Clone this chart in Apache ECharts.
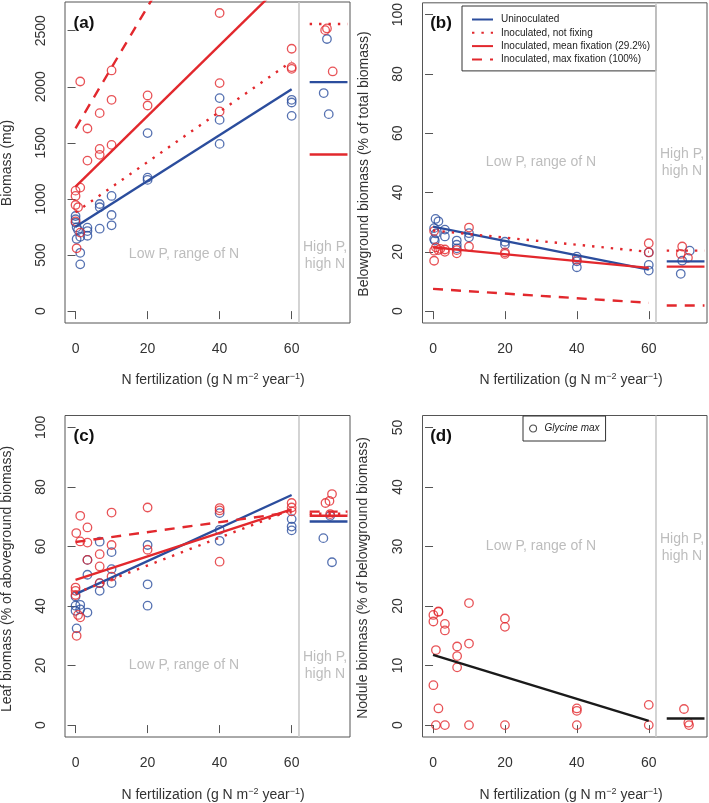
<!DOCTYPE html>
<html><head><meta charset="utf-8">
<script src="https://cdn.jsdelivr.net/npm/echarts@6/dist/echarts.min.js"></script>
<style>html,body{margin:0;padding:0;background:#fff}#c{width:709px;height:803px}</style>
</head><body><div id="c"></div>
<script>
// ---------- tick labels ----------
const xTicks = [0, 20, 40, 60];
const aYTicks = [0, 500, 1000, 1500, 2000, 2500];
const pctTicks = [0, 20, 40, 60, 80, 100];
const dYTicks = [0, 10, 20, 30, 40, 50];
const highPBoundary = 62;
const highPSpan = [65, 75.5];
const fitN = [0, 60];

// ---------- series names ----------
const legendNames = ['Uninoculated', 'Inoculated, not fixing', 'Inoculated, mean fixation (29.2%)', 'Inoculated, max fixation (100%)'];

// ---------- panel (a) Biomass (mg) ----------
const aUninocN = [0, 0, 0, 0.3, 0.7, 0.3, 1.3, 1.3, 1.3, 3.3, 3.3, 3.3, 6.7, 6.7, 6.7, 10, 10, 10, 20, 20, 20, 40, 40, 40, 60, 60, 60, 69.8, 68.9, 70.3];
const aUninocVal = [848, 819, 789, 747, 723, 643, 663, 520, 417, 744, 714, 672, 955, 926, 735, 1027, 857, 765, 1587, 1190, 1170, 1899, 1705, 1491, 1884, 1860, 1741, 2426, 1944, 1756];
const aInocN = [0, 0, 0, 0.7, 0.3, 0, 1.3, 1.3, 1.3, 3.3, 3.3, 6.7, 6.7, 6.7, 10, 10, 10, 20, 20, 40, 40, 40, 60, 60, 60, 69.3, 69.8, 71.4];
const aInocVal = [1074, 1027, 946, 926, 560, 800, 1101, 700, 2047, 1628, 1342, 1765, 1446, 1393, 2146, 1884, 1482, 1923, 1833, 2658, 2033, 1780, 2339, 2175, 2160, 2505, 2520, 2137];
const aFitUninoc = [753, 1979];
const aFitNotFix = [881, 2226];
const aFitMean = [1110, 3000];
const aFitMax = [1630, 4880];
const aHighUninoc = 2042;
const aHighNotFix = 2560;
const aHighMean = 1396;

// ---------- panel (b) Belowground biomass (%) ----------
const bUninocN = [0.7, 1.5, 0.3, 0.8, 0.3, 0.5, 3.3, 3.3, 6.6, 6.6, 6.6, 10, 10, 20, 20, 40, 40, 40, 60, 60, 60, 71.4, 69.3, 68.9];
const bUninocVal = [31.1, 30.3, 28.0, 26.2, 24.3, 23.8, 27.5, 25.2, 23.8, 22.4, 21.2, 26.3, 24.9, 23.4, 22.4, 18.4, 16.8, 14.8, 19.8, 15.6, 13.7, 20.4, 17.0, 12.6];
const bInocN = [0.3, 0.3, 0.3, 0.8, 1.5, 2, 3.3, 3.3, 6.6, 6.6, 10, 10, 20, 20, 40, 60, 60, 69.3, 68.9, 70.9];
const bInocVal = [17.0, 20.4, 27.0, 21.5, 20.6, 21.0, 20.0, 20.8, 19.5, 20.6, 28.2, 21.8, 19.8, 19.3, 17.3, 22.9, 19.8, 21.8, 19.3, 18.0];
const bFitUninoc = [28.5, 14.0];
const bFitNotFix = [27.2, 20.0];
const bFitMean = [21.5, 14.6];
const bFitMax = [7.5, 2.8];
const bHighUninoc = 16.8;
const bHighNotFix = 20.4;
const bHighMean = 15.0;
const bHighMax = 1.9;

// ---------- panel (c) Leaf biomass (%) ----------
const cUninocN = [6.7, 10, 3.3, 20, 3.3, 10, 10, 6.7, 6.7, 20, 20, 0, 0, 0, 1.3, 1.3, 3.3, 0.3, 40, 40, 40, 60, 60, 60, 70.7, 68.8, 71.2];
const cUninocVal = [61.6, 58.1, 55.5, 60.5, 50.5, 52.4, 47.7, 45.1, 47.7, 47.3, 40.1, 43.2, 40.1, 38.4, 40.4, 38.9, 37.8, 32.5, 71.2, 65.6, 61.9, 69.2, 66.7, 65.4, 70.3, 62.8, 54.7];
const cInocN = [1.3, 10, 20, 3.3, 0.2, 1.3, 3.3, 10, 20, 6.7, 6.7, 10, 3.3, 6.7, 0, 0, 0, 0.7, 1.3, 0.3, 40, 40, 40, 60, 60, 60, 71.2, 70.5, 69.4, 70.7];
const cInocVal = [70.3, 71.4, 73.1, 66.4, 64.5, 61.7, 61.3, 60.5, 58.9, 57.4, 53.3, 49.9, 55.5, 47.7, 46.2, 45.1, 43.7, 37.0, 36.2, 30.0, 72.9, 72.1, 54.9, 74.6, 73.1, 71.8, 77.6, 75.3, 74.6, 70.9];
const cFitUninoc = [44.0, 77.3];
const cFitNotFix = [44.3, 72.3];
const cFitMean = [48.8, 72.5];
const cFitMax = [61.5, 71.5];
const cHighUninoc = 68.4;
const cHighNotFix = 71.0;
const cHighMean = 70.3;
const cHighMax = 71.7;

// ---------- panel (d) Nodule biomass (%) ----------
const dN = [0.1, 0.1, 1.5, 1.5, 3.3, 3.3, 10, 10, 20, 20, 0.8, 6.7, 6.7, 6.7, 0.1, 1.5, 0.8, 3.3, 10, 20, 40, 60, 40, 40, 60, 69.8, 71, 71.2];
const dVal = [18.5, 17.4, 19.1, 19.0, 17.0, 15.9, 20.5, 13.7, 17.9, 16.5, 12.6, 13.2, 11.6, 9.7, 6.7, 2.8, 0, 0, 0, 0, 0, 0, 2.8, 2.4, 3.4, 2.7, 0.4, 0];
const dFit = [11.8, 0.7];
const dHigh = 1.1;

// ---------- styling ----------
const FONT = "'Liberation Sans', Arial, Helvetica, sans-serif";
const BLUE = '#2b4d9d', RED = '#e2282d', BLACK = '#1a1a1a';
const GRAY_TXT = '#bdbdbd', GRAY_LINE = '#c9c9c9', AX = '#555', LBL = '#333';
const DOT = [2.4, 7], DASH = [10, 8];

const pair = (xs, ys) => xs.map((x, i) => [x, ys[i]]);
const fitPts = (vals) => pair(fitN, vals);
const highPts = (v) => [[highPSpan[0], v], [highPSpan[1], v]];

function scatter(idx, name, xs, ys, color, withBoundary) {
  const s = {
    type: 'scatter', name, xAxisIndex: idx, yAxisIndex: idx, data: pair(xs, ys),
    symbol: 'circle', symbolSize: 8.5, silent: true, z: 3,
    itemStyle: { color: 'rgba(0,0,0,0)', borderColor: color, borderWidth: 1.3 },
    emphasis: { disabled: true }
  };
  if (withBoundary) {
    s.markLine = {
      silent: true, symbol: 'none', label: { show: false },
      lineStyle: { color: GRAY_LINE, width: 1.6, type: 'solid' },
      data: [{ xAxis: highPBoundary }], animation: false
    };
  }
  return s;
}
function line(idx, name, pts, color, type) {
  return {
    type: 'line', name, xAxisIndex: idx, yAxisIndex: idx, data: pts,
    symbol: 'none', showSymbol: false, clip: true, silent: true, z: 4,
    lineStyle: { color, width: 2.4, type, cap: 'butt' }, itemStyle: { color }
  };
}

const grids = [
  { left: 65, top: 2, width: 285, height: 321 },
  { left: 422.5, top: 2, width: 284.5, height: 321 },
  { left: 65, top: 415.5, width: 285, height: 321.5 },
  { left: 422.5, top: 415.5, width: 284.5, height: 321.5 }
].map(g => Object.assign(g, { show: true, borderColor: AX, borderWidth: 1, backgroundColor: 'transparent' }));

const plain = v => String(v);
const xAxes = [0, 1, 2, 3].map(i => ({
  type: 'value', gridIndex: i, min: -2.93, max: 76.2,
  axisLine: { show: false }, splitLine: { show: false },
  axisTick: { show: true, inside: false, length: 8, lineStyle: { color: AX }, customValues: xTicks },
  axisLabel: { customValues: xTicks, formatter: plain, margin: 19, fontSize: 14, color: LBL, fontFamily: FONT }
}));
const yRanges = [[-106, 2756, aYTicks], [-4, 104, pctTicks], [-4, 104, pctTicks], [-2, 52, dYTicks]];
const yAxes = yRanges.map((r, i) => ({
  type: 'value', gridIndex: i, min: r[0], max: r[1],
  axisLine: { show: false }, splitLine: { show: false },
  axisTick: { show: true, inside: false, length: 8, lineStyle: { color: AX }, customValues: r[2] },
  axisLabel: { customValues: r[2], formatter: plain, rotate: 90, margin: 17, fontSize: 14, color: LBL, fontFamily: FONT }
}));

const series = [
  // (a)
  scatter(0, 'Uninoculated obs', aUninocN, aUninocVal, BLUE, true),
  scatter(0, 'Inoculated obs', aInocN, aInocVal, RED, false),
  line(0, legendNames[0], fitPts(aFitUninoc), BLUE, 'solid'),
  line(0, legendNames[1], fitPts(aFitNotFix), RED, DOT),
  line(0, legendNames[2], fitPts(aFitMean), RED, 'solid'),
  line(0, legendNames[3], fitPts(aFitMax), RED, DASH),
  line(0, legendNames[0], highPts(aHighUninoc), BLUE, 'solid'),
  line(0, legendNames[1], highPts(aHighNotFix), RED, DOT),
  line(0, legendNames[2], highPts(aHighMean), RED, 'solid'),
  // (b)
  scatter(1, 'Uninoculated obs', bUninocN, bUninocVal, BLUE, true),
  scatter(1, 'Inoculated obs', bInocN, bInocVal, RED, false),
  line(1, legendNames[0], fitPts(bFitUninoc), BLUE, 'solid'),
  line(1, legendNames[1], fitPts(bFitNotFix), RED, DOT),
  line(1, legendNames[2], fitPts(bFitMean), RED, 'solid'),
  line(1, legendNames[3], fitPts(bFitMax), RED, DASH),
  line(1, legendNames[0], highPts(bHighUninoc), BLUE, 'solid'),
  line(1, legendNames[1], highPts(bHighNotFix), RED, DOT),
  line(1, legendNames[2], highPts(bHighMean), RED, 'solid'),
  line(1, legendNames[3], highPts(bHighMax), RED, DASH),
  // (c)
  scatter(2, 'Uninoculated obs', cUninocN, cUninocVal, BLUE, true),
  scatter(2, 'Inoculated obs', cInocN, cInocVal, RED, false),
  line(2, legendNames[0], fitPts(cFitUninoc), BLUE, 'solid'),
  line(2, legendNames[1], fitPts(cFitNotFix), RED, DOT),
  line(2, legendNames[2], fitPts(cFitMean), RED, 'solid'),
  line(2, legendNames[3], fitPts(cFitMax), RED, DASH),
  line(2, legendNames[0], highPts(cHighUninoc), BLUE, 'solid'),
  line(2, legendNames[1], highPts(cHighNotFix), RED, DOT),
  line(2, legendNames[2], highPts(cHighMean), RED, 'solid'),
  line(2, legendNames[3], highPts(cHighMax), RED, DASH),
  // (d)
  scatter(3, 'Glycine max', dN, dVal, RED, true),
  line(3, 'Nodule fit', fitPts(dFit), BLACK, 'solid'),
  line(3, 'Nodule fit', highPts(dHigh), BLACK, 'solid')
];

const txt = (x, y, text, extra, rot) => Object.assign({
  type: 'text', x, y, rotation: rot || 0, silent: true, z: 10,
  style: Object.assign({ text, fontFamily: FONT, fontSize: 14, fill: LBL, align: 'center', verticalAlign: 'middle' }, extra || {})
});
const xTitle = 'N fertilization (g N m{sup|\u22122} year{sup|\u22121})';
const xTitleStyle = { lineHeight: 16, rich: { sup: { fontSize: 9, lineHeight: 9, verticalAlign: 'top', fill: LBL, fontFamily: FONT } } };
const gray = { fill: GRAY_TXT, fontSize: 14 };
const grayHigh = { fill: GRAY_TXT, fontSize: 14, lineHeight: 17 };
const bold = { fontSize: 17, fontWeight: 'bold', fill: '#111' };
const R90 = Math.PI / 2;

const graphic = [
  txt(84, 23, '(a)', bold), txt(441, 23, '(b)', bold), txt(84, 436, '(c)', bold), txt(441, 436, '(d)', bold),
  txt(184, 254, 'Low P, range of N', gray), txt(325, 256, 'High P,\nhigh N', grayHigh),
  txt(541, 162, 'Low P, range of N', gray), txt(682, 163, 'High P,\nhigh N', grayHigh),
  txt(184, 665, 'Low P, range of N', gray), txt(325, 666, 'High P,\nhigh N', grayHigh),
  txt(541, 546, 'Low P, range of N', gray), txt(682, 548, 'High P,\nhigh N', grayHigh),
  txt(213, 380, xTitle, xTitleStyle), txt(571, 380, xTitle, xTitleStyle),
  txt(213, 795, xTitle, xTitleStyle), txt(571, 795, xTitle, xTitleStyle),
  txt(7.5, 163, 'Biomass (mg)', {}, R90),
  txt(364, 164, 'Belowground biomass (% of total biomass)', {}, R90),
  txt(7.5, 579, 'Leaf biomass (% of aboveground biomass)', {}, R90),
  txt(363, 578, 'Nodule biomass (% of belowground biomass)', {}, R90)
];

const legend = [
  {
    data: legendNames, orient: 'vertical', left: 462, top: 6,
    itemWidth: 21, itemHeight: 8, itemGap: 0.3, selectedMode: false,
    backgroundColor: '#fff', borderColor: '#333', borderWidth: 1, borderRadius: 0,
    padding: [7, 6, 5, 9],
    itemStyle: { opacity: 0 },
    textStyle: { fontSize: 10, color: '#222', fontFamily: FONT, lineHeight: 13, padding: [0, 0, 0, 3] }
  },
  {
    data: [{ name: 'Glycine max', icon: 'circle' }], orient: 'vertical', left: 523, top: 416,
    itemWidth: 7, itemHeight: 7, selectedMode: false,
    backgroundColor: '#fff', borderColor: '#333', borderWidth: 1, borderRadius: 0,
    padding: [6, 6, 6, 6],
    itemStyle: { color: 'rgba(0,0,0,0)', borderColor: '#222', borderWidth: 1.1 },
    textStyle: { fontSize: 10, fontStyle: 'italic', color: '#222', fontFamily: FONT, lineHeight: 13, padding: [0, 0, 0, 3] }
  }
];

const chart = echarts.init(document.getElementById('c'), null, { renderer: 'canvas' });
chart.setOption({
  animation: false, backgroundColor: '#fff',
  grid: grids, xAxis: xAxes, yAxis: yAxes, series, legend, graphic,
  textStyle: { fontFamily: FONT }
});
</script></body></html>
